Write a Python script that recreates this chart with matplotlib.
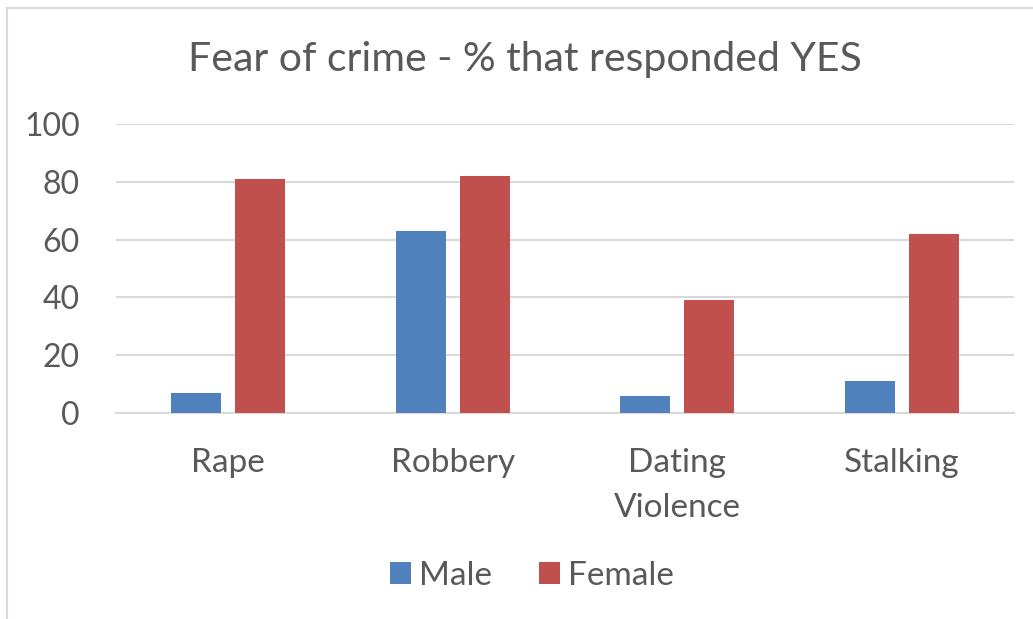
import matplotlib
matplotlib.use("Agg")
import matplotlib.pyplot as plt
import numpy as np
from matplotlib.patches import Rectangle

categories = ["Rape", "Robbery", "Dating\nViolence", "Stalking"]
male = [7, 63, 6, 11]
female = [81, 82, 39, 62]
series_names = ["Male", "Female"]
yticks = [0, 20, 40, 60, 80, 100]

BLUE = "#4F81BD"
RED = "#C0504D"
TXT = "#595959"
GRID = "#D9D9D9"

plt.rcParams['font.family'] = ['Lato', 'DejaVu Sans']

fig = plt.figure(figsize=(10.33, 6.19), dpi=100)
W, H = 1033, 619
ax = fig.add_axes([116 / W, 1 - 413 / H, (1014 - 116) / W, (413 - 124) / H])

x = np.arange(len(categories))
bw = 0.223
off = 0.1425
ax.bar(x - off, male, bw, color=BLUE, label=series_names[0], zorder=3)
ax.bar(x + off, female, bw, color=RED, label=series_names[1], zorder=3)

ax.set_xlim(-0.5, len(categories) - 0.5)
ax.set_ylim(0, 100)
ax.set_yticks(yticks)
ax.set_yticklabels([str(v) for v in yticks], fontsize=23, color=TXT)
ax.set_xticks(x)
ax.set_xticklabels(categories, fontsize=24, color=TXT, linespacing=1.62)
ax.tick_params(axis='both', length=0)
ax.tick_params(axis='y', pad=26)
ax.tick_params(axis='x', pad=25)
ax.grid(axis='y', color=GRID, linewidth=1.5, zorder=0)
for s in ["top", "right", "left"]:
    ax.spines[s].set_visible(False)
ax.spines["bottom"].set_color(GRID)
ax.spines["bottom"].set_linewidth(1.5)

fig.text(525 / W, 1 - 60 / H, "Fear of crime - % that responded YES",
         fontsize=29.5, color=TXT, ha='center', va='center')

leg = fig.legend(loc='center', bbox_to_anchor=(532 / W, 1 - 576 / H), ncol=2,
                 frameon=False, fontsize=24, handlelength=0.62, handleheight=0.62,
                 columnspacing=1.4, handletextpad=0.25)
for t in leg.get_texts():
    t.set_color(TXT)

# outer chart border
fig.patches.append(Rectangle((7 / W, -0.1), 1.2, 1 - 8 / H + 0.1, transform=fig.transFigure,
                             fill=False, edgecolor="#D9D9D9", linewidth=1.5))

fig.savefig("out.png", dpi=100, facecolor="white")
